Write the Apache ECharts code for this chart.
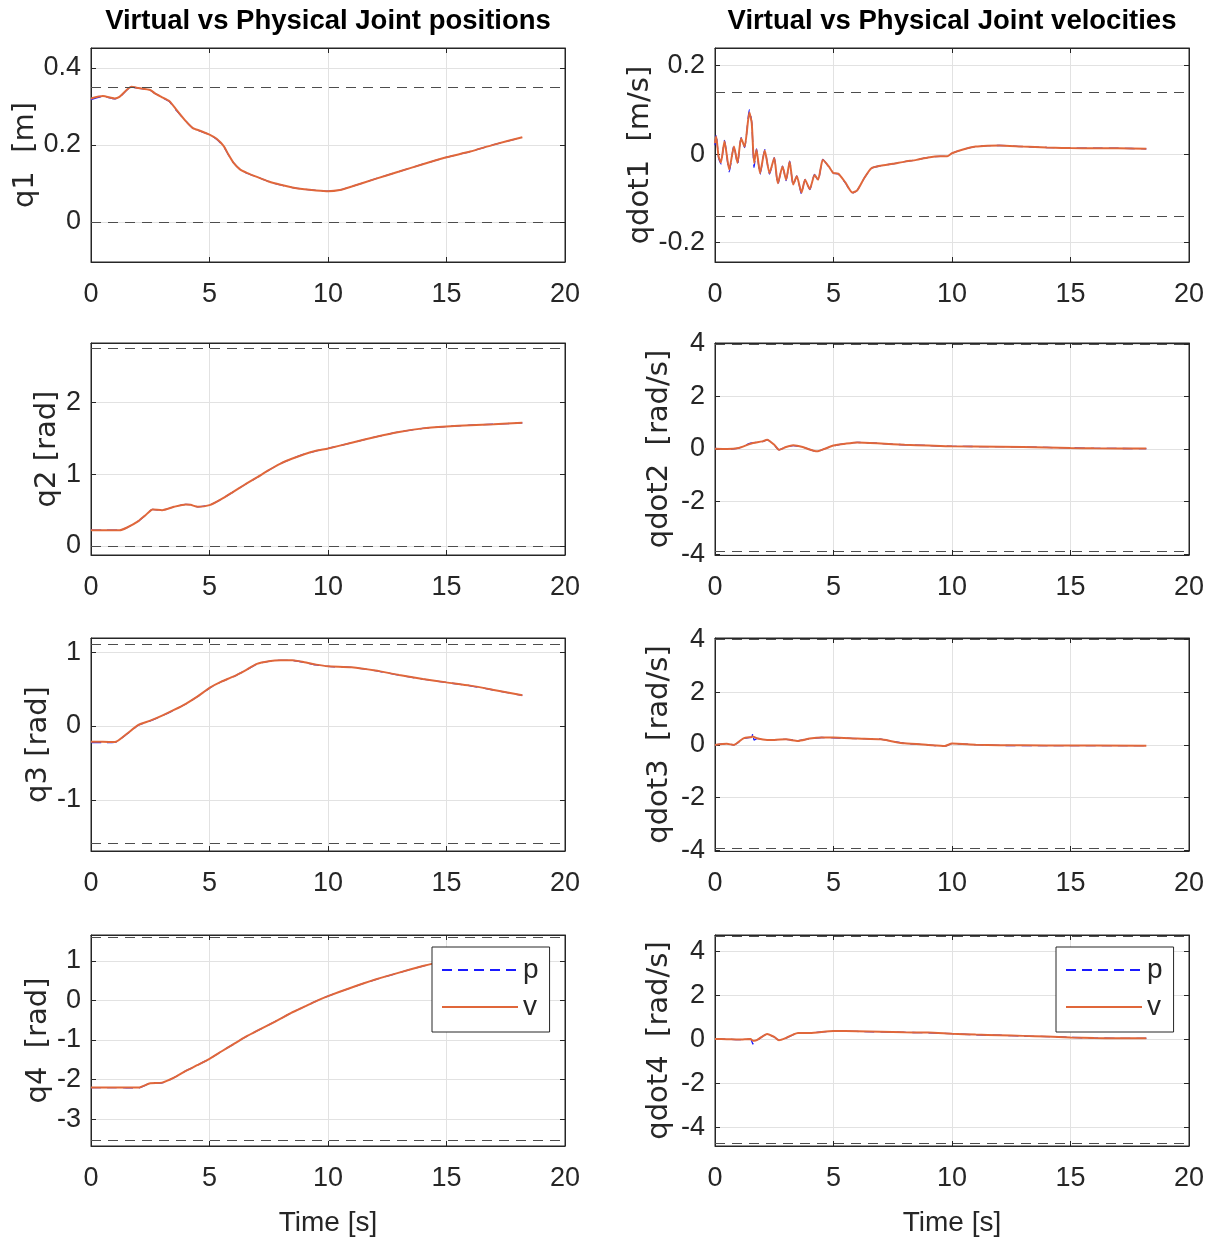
<!DOCTYPE html>
<html><head><meta charset="utf-8">
<script src="https://cdn.jsdelivr.net/npm/echarts@6/dist/echarts.min.js"></script>
<style>html,body{margin:0;padding:0;background:#fff}#c{width:1212px;height:1244px}</style>
</head><body><div id="c"></div>
<script>
// ---------------- DATA ----------------
const xTicks = [0, 5, 10, 15, 20];
const titles = ['Virtual vs Physical Joint positions', 'Virtual vs Physical Joint velocities'];
const legendNames = ['p', 'v'];
const xName = 'Time [s]';

// q1 [m]
const t_q1 = [0,0.5,1.0,1.2,1.7,2.0,2.5,2.7,3.0,3.3,3.6,4.0,4.3,4.6,5.0,5.3,5.6,5.8,6.0,6.3,6.6,7.0,7.5,8.0,8.5,9.0,9.5,10,10.5,11,12,13,14,15,16,17,18.2];
const q1_v = [0.321,0.327,0.321,0.325,0.351,0.348,0.343,0.334,0.324,0.314,0.292,0.262,0.244,0.237,0.227,0.216,0.197,0.175,0.155,0.136,0.127,0.117,0.105,0.0965,0.0896,0.085,0.082,0.080,0.083,0.092,0.112,0.131,0.150,0.168,0.183,0.201,0.220];
const q1_p = [0.318,0.326,0.320,0.324,0.350,0.348,0.342,0.334,0.323,0.313,0.290,0.262,0.243,0.236,0.227,0.215,0.196,0.174,0.155,0.136,0.126,0.117,0.105,0.0962,0.0894,0.085,0.082,0.080,0.083,0.092,0.112,0.131,0.150,0.168,0.183,0.201,0.220];
const q1_ticks = [0, 0.2, 0.4];
const q1_range = [-0.104, 0.452];
const q1_lim = [0, 0.347];

// q2 [rad]
const t_q2 = [0,0.5,1.2,1.5,2.0,2.3,2.6,3.0,3.5,4.0,4.2,4.5,5.0,5.5,6.0,6.5,7.0,7.5,8.0,8.5,9.0,9.5,10,11,12,13,14,15,16,17,18.2];
const q2_v = [0.22,0.22,0.22,0.255,0.348,0.43,0.51,0.50,0.547,0.58,0.575,0.547,0.57,0.654,0.756,0.858,0.956,1.058,1.15,1.22,1.28,1.327,1.36,1.44,1.52,1.59,1.64,1.666,1.685,1.698,1.717];
const q2_p = [0.22,0.22,0.22,0.254,0.347,0.43,0.51,0.50,0.546,0.58,0.575,0.546,0.57,0.652,0.755,0.857,0.955,1.057,1.15,1.22,1.28,1.327,1.36,1.44,1.52,1.59,1.64,1.666,1.685,1.698,1.717];
const q2_ticks = [0, 1, 2];
const q2_range = [-0.125, 2.83];
const q2_lim = [-0.01, 2.746];

// q3 [rad]
const t_q3 = [0,0.5,1.0,1.5,2.0,2.5,3.0,3.5,4.0,4.5,5.0,5.5,6.0,6.5,7.0,7.5,8.0,8.5,9.0,9.5,10,11,12,13,14,15,16,17,18.2];
const q3_v = [-0.212,-0.212,-0.217,-0.108,0.014,0.072,0.14,0.217,0.30,0.40,0.515,0.60,0.668,0.75,0.84,0.876,0.889,0.889,0.862,0.83,0.808,0.795,0.75,0.69,0.637,0.59,0.546,0.488,0.415];
const q3_p = [-0.225,-0.225,-0.222,-0.112,0.010,0.070,0.138,0.215,0.298,0.398,0.512,0.598,0.665,0.748,0.838,0.875,0.888,0.887,0.860,0.826,0.805,0.792,0.748,0.687,0.634,0.588,0.544,0.486,0.413];
const q3_ticks = [-1, 0, 1];
const q3_range = [-1.69, 1.19];
const q3_lim = [-1.58, 1.111];

// q4 [rad]
const t_q4 = [0,1.0,2.0,2.5,3.0,3.5,4.0,4.5,5.0,5.5,6.0,6.5,7.0,7.5,8.0,8.5,9.0,9.5,10,11,12,13,14,14.5,15,16,17,18.2];
const q4_v = [-2.2,-2.2,-2.2,-2.09,-2.075,-1.95,-1.78,-1.63,-1.475,-1.29,-1.11,-0.93,-0.77,-0.62,-0.46,-0.30,-0.16,-0.017,0.108,0.325,0.525,0.70,0.867,0.94,1.0,1.1,1.18,1.25];
const q4_p = [-2.2,-2.2,-2.21,-2.09,-2.08,-1.95,-1.78,-1.63,-1.475,-1.29,-1.11,-0.93,-0.77,-0.62,-0.46,-0.30,-0.16,-0.017,0.108,0.325,0.525,0.70,0.867,0.94,1.0,1.1,1.18,1.25];
const q4_ticks = [-3, -2, -1, 0, 1];
const q4_range = [-3.675, 1.65];
const q4_lim = [-3.535, 1.59];

// qdot1 [m/s]
const t_qd1 = [0,0.05,0.15,0.25,0.4,0.6,0.8,0.95,1.1,1.25,1.45,1.55,1.65,1.75,1.9,2.1,2.3,2.5,2.65,2.85,3.0,3.15,3.3,3.45,3.65,3.8,4.0,4.2,4.35,4.55,4.8,5.0,5.2,5.5,5.8,6.0,6.3,6.6,7.0,7.5,8.0,8.5,9.0,9.5,9.8,10.0,10.5,11,11.5,12,13,14,15,16,17,18.2];
const qd1_v = [0.025,0.04,-0.005,-0.019,0.029,-0.035,0.017,-0.02,0.036,0.017,0.094,0.07,-0.02,0.01,-0.043,0.008,-0.043,-0.009,-0.066,-0.028,-0.058,-0.017,-0.069,-0.05,-0.087,-0.058,-0.079,-0.047,-0.058,-0.013,-0.028,-0.043,-0.044,-0.064,-0.087,-0.082,-0.054,-0.032,-0.026,-0.022,-0.017,-0.013,-0.0075,-0.005,-0.005,0.002,0.011,0.017,0.019,0.0196,0.017,0.015,0.0136,0.0135,0.0133,0.012];
const qd1_p = [0.02,0.045,-0.008,-0.022,0.031,-0.04,0.019,-0.023,0.037,0.015,0.1,0.072,-0.03,0.012,-0.046,0.01,-0.045,-0.008,-0.069,-0.027,-0.06,-0.016,-0.071,-0.049,-0.09,-0.057,-0.08,-0.046,-0.06,-0.012,-0.029,-0.043,-0.045,-0.065,-0.088,-0.082,-0.054,-0.032,-0.026,-0.022,-0.017,-0.013,-0.0075,-0.005,-0.005,0.002,0.011,0.017,0.019,0.0196,0.017,0.015,0.0136,0.0135,0.0133,0.012];
const qd1_ticks = [-0.2, 0, 0.2];
const qd1_range = [-0.244, 0.24];
const qd1_lim = [-0.143, 0.138];

// qdot2 [rad/s]
const t_qd2 = [0,0.5,1.0,1.5,2.0,2.2,2.5,2.7,3.0,3.3,3.7,4.0,4.3,4.6,5.0,5.5,6.0,7.0,8.0,9.0,10,12,14,15,16,18.2];
const qd2_v = [0.01,0,0.04,0.2,0.29,0.35,0.16,-0.03,0.075,0.14,0.075,-0.02,-0.09,0,0.13,0.2,0.25,0.21,0.16,0.13,0.1,0.09,0.06,0.04,0.025,0.015];
const qd2_p = [0.02,-0.01,0.03,0.22,0.28,0.35,0.15,-0.03,0.08,0.13,0.07,-0.02,-0.1,0,0.12,0.21,0.25,0.21,0.16,0.13,0.1,0.09,0.06,0.04,0.025,0.015];
const qd2_ticks = [-4, -2, 0, 2, 4];
const qd2_range = [-4.03, 4.03];
const qd2_lim = [-3.89, 3.97];

// qdot3 [rad/s]
const t_qd3 = [0,0.5,0.8,1.2,1.55,1.6,1.65,1.8,2.2,2.5,3.0,3.5,4.0,4.5,5.0,6.0,7.0,7.5,8.0,9.0,9.7,10,11,12,14,18.2];
const qd3_v = [0,0.04,0,0.25,0.3,0.32,0.3,0.24,0.19,0.19,0.21,0.15,0.24,0.28,0.28,0.24,0.21,0.13,0.06,0,-0.04,0.05,0.01,-0.01,-0.02,-0.03];
const qd3_p = [0,0.05,0,0.24,0.3,0.45,0.18,0.25,0.19,0.2,0.21,0.16,0.23,0.28,0.27,0.24,0.22,0.13,0.06,0,-0.05,0.05,0.01,-0.02,-0.03,-0.03];
const qd3_ticks = [-4, -2, 0, 2, 4];
const qd3_range = [-4.02, 4.05];
const qd3_lim = [-3.9, 3.99];

// qdot4 [rad/s]
const t_qd4 = [0,0.5,1.0,1.5,1.6,1.65,1.8,2.2,2.5,2.7,3.0,3.3,3.5,4.0,5.0,6.0,8.0,9.0,10,11,12,13,14,15,16,17,18.2];
const qd4_v = [0.03,0.02,0,0.03,-0.05,-0.05,0,0.26,0.12,-0.03,0.08,0.23,0.3,0.3,0.39,0.38,0.33,0.32,0.27,0.23,0.2,0.17,0.14,0.1,0.075,0.06,0.06];
const qd4_p = [0.03,0.02,0,0.02,-0.2,-0.03,0,0.25,0.12,-0.03,0.07,0.22,0.3,0.31,0.38,0.37,0.33,0.31,0.27,0.22,0.2,0.16,0.14,0.1,0.07,0.06,0.06];
const qd4_ticks = [-4, -2, 0, 2, 4];
const qd4_range = [-4.83, 4.75];
const qd4_lim = [-4.71, 4.71];

const panelData = [
  {t: t_q1, p: q1_p, v: q1_v, ticks: q1_ticks, range: q1_range, lim: q1_lim, label: 'q1  [m]'},
  {t: t_q2, p: q2_p, v: q2_v, ticks: q2_ticks, range: q2_range, lim: q2_lim, label: 'q2 [rad]'},
  {t: t_q3, p: q3_p, v: q3_v, ticks: q3_ticks, range: q3_range, lim: q3_lim, label: 'q3 [rad]'},
  {t: t_q4, p: q4_p, v: q4_v, ticks: q4_ticks, range: q4_range, lim: q4_lim, label: 'q4  [rad]'},
  {t: t_qd1, p: qd1_p, v: qd1_v, ticks: qd1_ticks, range: qd1_range, lim: qd1_lim, label: 'qdot1  [m/s]'},
  {t: t_qd2, p: qd2_p, v: qd2_v, ticks: qd2_ticks, range: qd2_range, lim: qd2_lim, label: 'qdot2  [rad/s]'},
  {t: t_qd3, p: qd3_p, v: qd3_v, ticks: qd3_ticks, range: qd3_range, lim: qd3_lim, label: 'qdot3  [rad/s]'},
  {t: t_qd4, p: qd4_p, v: qd4_v, ticks: qd4_ticks, range: qd4_range, lim: qd4_lim, label: 'qdot4  [rad/s]'}
];

// ---------------- LAYOUT / STYLE ----------------
const colLeft = [91, 715];
const rowTop = [48, 343, 638, 935];
const rowH = [214, 212, 213, 211];
const plotW = 474;
const nameGaps = [40, 24, 38, 38, 51, 41, 41, 41];
const SANS = "'Liberation Sans',Arial,Helvetica,sans-serif";
const WIDE = "'DejaVu Sans',sans-serif";
const TXT = '#262626';
const GRIDC = '#e2e2e2';

const grids = [], xAxes = [], yAxes = [], series = [];
panelData.forEach((P, i) => {
  const col = i < 4 ? 0 : 1, row = i % 4;
  grids.push({left: colLeft[col], top: rowTop[row], width: plotW, height: rowH[row],
    show: true, borderColor: TXT, borderWidth: 1, backgroundColor: '#fff'});
  const isBottom = row === 3;
  xAxes.push({type: 'value', gridIndex: i, min: xTicks[0], max: xTicks[xTicks.length - 1], interval: 5,
    axisLine: {show: true, onZero: false, lineStyle: {color: TXT, width: 1}},
    axisTick: {show: true, inside: true, length: 5, lineStyle: {color: TXT}},
    axisLabel: {fontFamily: SANS, fontSize: 27, color: TXT, margin: 19},
    splitLine: {show: true, lineStyle: {color: GRIDC, width: 1}},
    name: isBottom ? xName : '', nameLocation: 'middle', nameGap: 63,
    nameTextStyle: {fontFamily: SANS, fontSize: 28, color: TXT}});
  xAxes.push({type: 'value', gridIndex: i, position: 'top', min: xTicks[0], max: xTicks[xTicks.length - 1], interval: 5,
    axisLine: {show: true, onZero: false, lineStyle: {color: TXT, width: 1}},
    axisTick: {show: true, inside: true, length: 5, lineStyle: {color: TXT}},
    axisLabel: {show: false}, splitLine: {show: false}});
  yAxes.push({type: 'value', gridIndex: i, min: P.range[0], max: P.range[1],
    axisLine: {show: true, onZero: false, lineStyle: {color: TXT, width: 1}},
    axisTick: {show: true, inside: true, length: 5, lineStyle: {color: TXT}, customValues: P.ticks},
    axisLabel: {fontFamily: SANS, fontSize: 27, color: TXT, margin: 10, customValues: P.ticks},
    splitLine: {show: true, lineStyle: {color: GRIDC, width: 1}},
    name: P.label, nameLocation: 'middle', nameRotate: 90, nameGap: nameGaps[i],
    nameTextStyle: {fontFamily: WIDE, fontSize: 29, color: TXT}});
  yAxes.push({type: 'value', gridIndex: i, position: 'right', min: P.range[0], max: P.range[1],
    axisLine: {show: true, onZero: false, lineStyle: {color: TXT, width: 1}},
    axisTick: {show: true, inside: true, length: 5, lineStyle: {color: TXT}, customValues: P.ticks},
    axisLabel: {show: false, customValues: P.ticks}, splitLine: {show: false}});
  series.push({type: 'line', name: legendNames[0], xAxisIndex: 2 * i, yAxisIndex: 2 * i,
    data: P.t.map((t, k) => [t, P.p[k]]), symbol: 'none', showSymbol: false, z: 3,
    smooth: 0.2,
    lineStyle: {color: '#1a1aff', width: 1.3, type: [10, 6]}, itemStyle: {color: '#1a1aff'}});
  series.push({type: 'line', name: legendNames[1], xAxisIndex: 2 * i, yAxisIndex: 2 * i,
    data: P.t.map((t, k) => [t, P.v[k]]), symbol: 'none', showSymbol: false, z: 4,
    smooth: 0.2,
    lineStyle: {color: '#E0673A', width: 2}, itemStyle: {color: '#E0673A'},
    markLine: {silent: true, symbol: 'none', label: {show: false}, animation: false,
      lineStyle: {color: '#4d4d4d', type: [10, 7], width: 1.2},
      data: P.lim.map(y => ({yAxis: y}))}});
});

const legendBase = {data: legendNames, orient: 'vertical', top: 947, z: 10,
  backgroundColor: '#fff', borderColor: TXT, borderWidth: 1, borderRadius: 0,
  padding: [9, 11, 11, 9], itemGap: 9, itemWidth: 76, itemHeight: 14, selectedMode: false,
  itemStyle: {opacity: 0, borderWidth: 0},
  textStyle: {fontFamily: SANS, fontSize: 28, color: TXT}};

const option = {
  animation: false,
  backgroundColor: '#fff',
  title: titles.map((tx, c) => ({text: tx, left: colLeft[c] + plotW / 2, top: 7, padding: 0, textAlign: 'center',
    textStyle: {fontFamily: SANS, fontWeight: 'bold', fontSize: 27.5, color: '#000'}})),
  legend: [Object.assign({left: 432}, legendBase), Object.assign({left: 1056}, legendBase)],
  grid: grids, xAxis: xAxes, yAxis: yAxes, series: series
};
const chart = echarts.init(document.getElementById('c'), null, {renderer: 'canvas'});
chart.setOption(option);
</script></body></html>
